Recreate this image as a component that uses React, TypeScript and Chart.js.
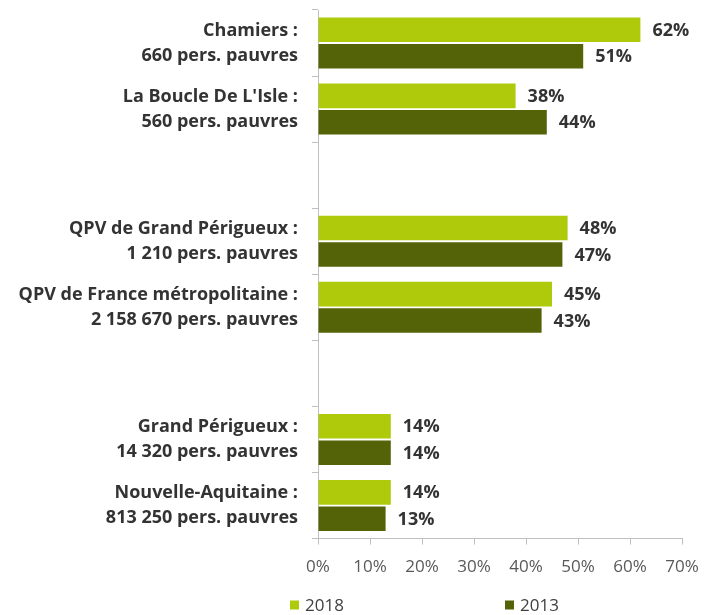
import React, { useEffect, useRef } from 'react';
import { Chart, registerables } from 'chart.js';

Chart.register(...registerables);

const categories: string[][] = [
  ['Chamiers :', '660 pers. pauvres'],
  ["La Boucle De L'Isle :", '560 pers. pauvres'],
  [''],
  ['QPV de Grand Périgueux :', '1 210 pers. pauvres'],
  ['QPV de France métropolitaine :', '2 158 670 pers. pauvres'],
  [''],
  ['Grand Périgueux :', '14 320 pers. pauvres'],
  ['Nouvelle-Aquitaine :', '813 250 pers. pauvres'],
];
const values2018: (number | null)[] = [62, 38, null, 48, 45, null, 14, 14];
const values2013: (number | null)[] = [51, 44, null, 47, 43, null, 14, 13];
const seriesNames = ['2018', '2013'];
const seriesColors = ['#AFCA0B', '#556308'];
const xMin = 0;
const xMax = 70;
const xStep = 10;

const FONT = '"Open Sans", Roboto, sans-serif';

const valueLabels = {
  id: 'valueLabels',
  afterDatasetsDraw(chart: any) {
    const ctx = chart.ctx;
    ctx.save();
    ctx.font = `700 18px ${FONT}`;
    ctx.fillStyle = '#333333';
    ctx.textAlign = 'left';
    ctx.textBaseline = 'middle';
    chart.data.datasets.forEach((ds: any, di: number) => {
      const meta = chart.getDatasetMeta(di);
      meta.data.forEach((el: any, i: number) => {
        const v = ds.data[i];
        if (v === null || v === undefined) return;
        ctx.fillText(`${v}%`, el.x + 12, el.y + 1);
      });
    });
    ctx.restore();
  },
};

const customLegend = {
  id: 'customLegend',
  afterDraw(chart: any) {
    const ctx = chart.ctx;
    const positions = [290, 505];
    const y = 605;
    ctx.save();
    ctx.font = `17px ${FONT}`;
    ctx.textBaseline = 'middle';
    ctx.textAlign = 'left';
    chart.data.datasets.forEach((ds: any, i: number) => {
      const x = positions[i];
      ctx.fillStyle = ds.backgroundColor;
      ctx.fillRect(x, y - 4.5, 9, 9);
      ctx.fillStyle = '#404040';
      ctx.fillText(ds.label, x + 15, y + 1);
    });
    ctx.restore();
  },
};

export default function App() {
  const ref = useRef<HTMLCanvasElement | null>(null);
  useEffect(() => {
    document.body.style.margin = '0';
    const canvas = ref.current;
    if (!canvas) return;
    const chart = new Chart(canvas, {
      type: 'bar',
      data: {
        labels: categories,
        datasets: [
          {
            label: seriesNames[0],
            data: values2018,
            backgroundColor: seriesColors[0],
            categoryPercentage: 0.8,
            barPercentage: 0.93,
          },
          {
            label: seriesNames[1],
            data: values2013,
            backgroundColor: seriesColors[1],
            categoryPercentage: 0.8,
            barPercentage: 0.93,
          },
        ],
      },
      options: {
        indexAxis: 'y',
        animation: false,
        responsive: true,
        maintainAspectRatio: false,
        layout: { padding: { top: 10, right: 34, bottom: 26, left: 0 } },
        plugins: {
          legend: { display: false },
          tooltip: { enabled: false },
        },
        scales: {
          x: {
            min: xMin,
            max: xMax,
            afterFit: (scale: any) => {
              scale.paddingLeft = 0;
              scale.paddingRight = 0;
            },
            ticks: {
              stepSize: xStep,
              callback: (v: any) => `${v}%`,
              color: '#595959',
              font: { family: FONT, size: 17 },
              padding: 12,
            },
            grid: {
              drawOnChartArea: false,
              drawTicks: true,
              tickLength: 6,
              color: '#bfbfbf',
            },
            border: { display: true, color: '#bfbfbf' },
          },
          y: {
            afterFit: (scale: any) => {
              scale.width = 318;
              scale.paddingTop = 0;
              scale.paddingBottom = 0;
            },
            ticks: {
              autoSkip: false,
              color: '#333333',
              font: { family: FONT, size: 18, weight: '700', lineHeight: 1.4 },
              padding: 14,
            },
            grid: {
              offset: true,
              drawOnChartArea: false,
              drawTicks: true,
              tickLength: 6,
              color: '#bfbfbf',
            },
            border: { display: true, color: '#bfbfbf' },
          },
        },
      },
      plugins: [valueLabels, customLegend],
    });
    return () => chart.destroy();
  }, []);
  return (
    <div style={{ position: 'relative', width: 716, height: 615 }}>
      <canvas ref={ref} />
    </div>
  );
}
